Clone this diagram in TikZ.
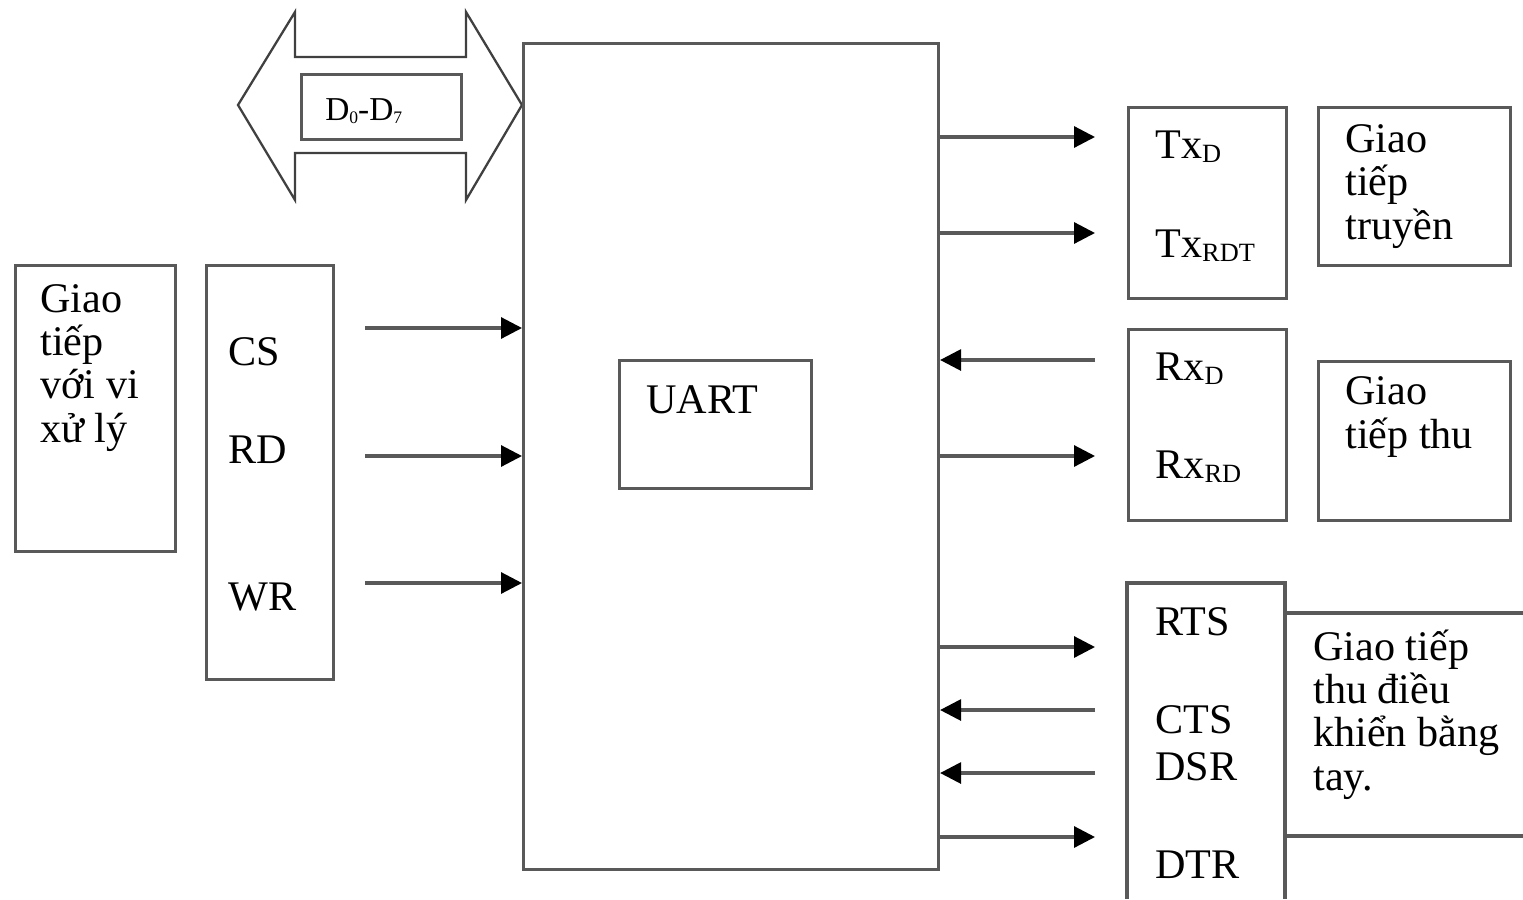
\documentclass[tikz,border=0pt]{standalone}
\usepackage{fontspec}
\setmainfont{Liberation Serif}
\usetikzlibrary{arrows.meta, positioning}

\newcommand{\lowsub}[1]{\raisebox{-2.3pt}{\fontsize{15}{15}\selectfont #1}}
\newcommand{\tinysub}[1]{\raisebox{-2pt}{\fontsize{10}{10}\selectfont #1}}

\begin{document}
\begin{tikzpicture}[x=0.02cm, y=-0.02cm,
  box/.style={draw=black!65, line width=1.8pt, inner sep=0pt, anchor=north west},
  edge/.style={draw=black!65, line width=1.8pt},
  bus/.style={draw=black!75, line width=1.3pt, line join=miter},
  sig/.style={draw=black!65, line width=1.8pt,
              -{Triangle[length=0.42cm, width=0.42cm, color=black]}},
  txt/.style={anchor=base west, inner sep=0pt, align=left,
              font=\fontsize{24}{24.6}\selectfont}]
  \useasboundingbox (0,0) rectangle (1523,899);

  % data bus
  \draw[bus] (238,105) -- (295,12) -- (295,57) -- (466,57) -- (466,12)
    -- (522,105) -- (466,200) -- (466,153) -- (295,153) -- (295,200) -- cycle;
  \node[box, minimum width=3.2cm, minimum height=1.3cm] (dbox) at (300,73) {};
  \node[anchor=base west, inner sep=0pt, font=\fontsize{19}{19}\selectfont] (dtxt)
    at (325,120) {D\tinysub{0}-D\tinysub{7}};

  % processor side (multi-line texts sit on their last line)
  \node[box, minimum width=3.2cm, minimum height=5.72cm] (cpu) at (14,264) {};
  \node[txt] (cputxt) at (40,442) {Giao\\tiếp\\với vi\\xử lý};
  \node[box, minimum width=2.54cm, minimum height=8.28cm] (pins) at (205,264) {};
  \node[txt] (cstxt) at (228,365) {CS};
  \node[txt] (rdtxt) at (228,463) {RD};
  \node[txt] (wrtxt) at (228,610) {WR};

  % UART
  \node[box, minimum width=8.3cm, minimum height=16.52cm] (uart) at (522,42) {};
  \node[box, minimum width=3.84cm, minimum height=2.56cm] (core) at (618,359) {};
  \node[txt] (coretxt) at (646,413) {UART};

  % transmit side
  \node[box, minimum width=3.16cm, minimum height=3.82cm] (txbox) at (1127,106) {};
  \node[txt] (txdtxt) at (1155,158) {Tx\lowsub{D}};
  \node[txt] (txrtxt) at (1155,257) {Tx\lowsub{RDT}};
  \node[box, minimum width=3.84cm, minimum height=3.16cm] (txif) at (1317,106) {};
  \node[txt] (txiftxt) at (1345,239) {Giao\\tiếp\\truyền};

  % receive side
  \node[box, minimum width=3.16cm, minimum height=3.82cm] (rxbox) at (1127,328) {};
  \node[txt] (rxdtxt) at (1155,380) {Rx\lowsub{D}};
  \node[txt] (rxrtxt) at (1155,478) {Rx\lowsub{RD}};
  \node[box, minimum width=3.84cm, minimum height=3.18cm] (rxif) at (1317,360) {};
  \node[txt] (rxiftxt) at (1345,448) {Giao\\tiếp thu};

  % modem control
  \draw[edge] (1127,899) -- (1127,583) -- (1285,583) -- (1285,899);
  \draw[edge] (1523,613) -- (1285,613) -- (1285,836) -- (1523,836);
  \node[txt] (rtstxt) at (1155,635) {RTS};
  \node[txt] (ctstxt) at (1155,733) {CTS};
  \node[txt] (dsrtxt) at (1155,780) {DSR};
  \node[txt] (dtrtxt) at (1155,878) {DTR};
  \node[txt] (mantxt) at (1313,790) {Giao tiếp\\thu điều\\khiển bằng\\tay.};

  % signals
  \foreach \name/\yy in {cs/328, rd/456, wr/583} {
    \coordinate (\name) at (365,\yy);
    \draw[sig] (\name) -- (\name -| uart.west);
  }
  \foreach \name/\yy in {txd/137, txr/233, rxr/456, rts/647, dtr/837} {
    \coordinate (\name) at (1095,\yy);
    \draw[sig] (uart.east |- \name) -- (\name);
  }
  \foreach \name/\yy in {rxd/360, cts/710, dsr/773} {
    \coordinate (\name) at (1095,\yy);
    \draw[sig] (\name) -- (uart.east |- \name);
  }
\end{tikzpicture}
\end{document}
